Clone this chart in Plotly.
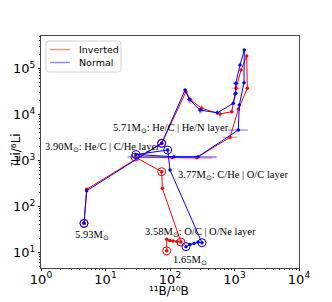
import plotly.graph_objects as go

# ---- data ----
normal_b = [4.64, 5.11, 74.3, 171, 199, 292, 541, 958, 1045, 1045, 1217, 1419, 1404, 1187, 1145,
            272, 115, 29.7, 92, 100, 313, 272, 236, 204, 177]
normal_li = [43, 220, 2366, 34100, 21400, 12500, 10900, 17500, 28900, 47600, 119000, 252000, 49100,
             16100, 4600, 1211, 1211, 1349, 1690, 621, 16.3, 16.9, 15.7, 14.9, 13.4]
inverted_b = [4.64, 5.11, 74.3, 177, 209, 310, 596, 905, 1018, 1055, 1262, 1546, 1579, 1153, 851,
              259, 107, 28.7, 74.3, 76, 148, 128, 111, 99, 88.9, 88.9]
inverted_li = [43, 237, 2366, 31300, 20700, 13600, 10300, 11500, 27900, 37100, 92700, 187000, 37100,
               13200, 3190, 1151, 1161, 1191, 572, 249, 16.9, 17.3, 17.8, 18.2, 19.4, 10.9]

# indices of layer-boundary points (circled)
normal_marks = [0, 2, 17, 18, 20, 24]
inverted_marks = [0, 2, 17, 18, 20, 25]

# error bounds: index -> (low, high)
normal_b_err = {9: (938, 1187), 14: (793, 1620), 16: (22, 535)}
normal_li_err = {4: (17500, 24400), 5: (10300, 14800), 6: (9750, 12500)}
inverted_b_err = {9: (900, 1200), 14: (650, 1100), 15: (159, 448), 16: (24, 520)}
inverted_li_err = {4: (17000, 25000), 5: (10800, 16100), 6: (8500, 12500)}

tick_vals_x = [1, 10, 100, 1000, 10000]
tick_text_x = ["10<sup>0</sup>", "10<sup>1</sup>", "10<sup>2</sup>", "10<sup>3</sup>", "10<sup>4</sup>"]
tick_vals_y = [10, 100, 1000, 10000, 100000]
tick_text_y = ["10<sup>1</sup>", "10<sup>2</sup>", "10<sup>3</sup>", "10<sup>4</sup>", "10<sup>5</sup>"]

series_names = ["Inverted", "Normal"]

# label text and its left/middle position in window pixels
labels = [
    ("5.71M<sub>⊙</sub>: He/C | He/N layer", 111, 128),
    ("3.90M<sub>⊙</sub>: He/C | C/He layer", 43, 147),
    ("3.77M<sub>⊙</sub>: C/He | O/C layer", 176, 175),
    ("3.58M<sub>⊙</sub>: O/C | O/Ne layer", 143, 232),
    ("1.65M<sub>⊙</sub>", 171, 260),
    ("5.93M<sub>⊙</sub>", 73, 235),
]

# the page body has an 8px margin, so the figure is drawn 8px in from the window corner
OFF = 8
WIN_W, WIN_H = 332, 302
W, H = WIN_W - OFF, WIN_H - OFF
L, R, T, B = 41 - OFF, 33, 36 - OFF, 34
PW, PH = W - L - R, H - T - B


def px_to_paper(px, py):
    return (px - OFF - L) / PW, (H - B - (py - OFF)) / PH


def err_arrays(vals, errs):
    plus = [0.0] * len(vals)
    minus = [0.0] * len(vals)
    for i, (lo, hi) in errs.items():
        plus[i] = hi - vals[i]
        minus[i] = vals[i] - lo
    return plus, minus


fig = go.Figure()

series = [
    (inverted_b, inverted_li, inverted_marks, inverted_b_err, inverted_li_err,
     "rgb(255,0,0)", "rgba(255,60,60,0.45)"),
    (normal_b, normal_li, normal_marks, normal_b_err, normal_li_err,
     "rgb(0,0,255)", "rgba(60,60,255,0.45)"),
]

for xs, ys, marks, xe, ye, col, ecol in series:
    xp, xm = err_arrays(xs, xe)
    yp, ym = err_arrays(ys, ye)
    fig.add_trace(go.Scatter(
        x=xs, y=ys, mode="lines+markers", showlegend=False,
        line=dict(color=col, width=1),
        marker=dict(color=col, size=3.5),
        error_x=dict(type="data", symmetric=False, array=xp, arrayminus=xm,
                     color=ecol, thickness=1.6, width=0),
        error_y=dict(type="data", symmetric=False, array=yp, arrayminus=ym,
                     color=ecol, thickness=1.6, width=0),
    ))
    fig.add_trace(go.Scatter(
        x=[xs[i] for i in marks], y=[ys[i] for i in marks], mode="markers",
        showlegend=False,
        marker=dict(symbol="circle-open", size=8, color=col, line=dict(width=1, color=col)),
    ))

for text, px, py in labels:
    ax, ay = px_to_paper(px, py)
    fig.add_annotation(
        text=text, x=ax, y=ay, xref="paper", yref="paper",
        xanchor="left", yanchor="middle", showarrow=False,
        font=dict(family="Liberation Serif", size=10.5, color="black"),
    )

# ---- legend (drawn as a matplotlib-style box) ----
bx0, by0 = px_to_paper(46, 41)
bx1, by1 = px_to_paper(121, 72)
rx, ry = 3 / PW, 3 / PH
path = (f"M {bx0 + rx},{by0} L {bx1 - rx},{by0} Q {bx1},{by0} {bx1},{by0 - ry} "
        f"L {bx1},{by1 + ry} Q {bx1},{by1} {bx1 - rx},{by1} L {bx0 + rx},{by1} "
        f"Q {bx0},{by1} {bx0},{by1 + ry} L {bx0},{by0 - ry} Q {bx0},{by0} {bx0 + rx},{by0} Z")
fig.add_shape(type="path", path=path, xref="paper", yref="paper",
              line=dict(color="rgb(210,210,210)", width=1),
              fillcolor="rgba(255,255,255,0.8)", layer="above")
legend_cols = ["rgba(255,0,0,0.45)", "rgba(0,0,255,0.45)"]
for k, (name, lc) in enumerate(zip(series_names, legend_cols)):
    ly = 49.5 + 13 * k
    lx0, lyp = px_to_paper(50, ly)
    lx1, _ = px_to_paper(70, ly)
    fig.add_shape(type="line", x0=lx0, x1=lx1, y0=lyp, y1=lyp, xref="paper", yref="paper",
                  line=dict(color=lc, width=1.5), layer="above")
    tx, ty = px_to_paper(77, ly)
    fig.add_annotation(text=name, x=tx, y=ty, xref="paper", yref="paper",
                       xanchor="left", yanchor="middle", showarrow=False,
                       font=dict(family="DejaVu Sans", size=9.5, color="black"))

# axis titles
tx, ty = px_to_paper(169, 291)
fig.add_annotation(
    text="¹¹B/¹⁰B", x=tx, y=ty,
    xref="paper", yref="paper", xanchor="center", yanchor="middle", showarrow=False,
    font=dict(family="DejaVu Sans", size=12, color="black"),
)
tx, ty = px_to_paper(16, 150)
fig.add_annotation(
    text="⁷Li/⁶Li", x=tx, y=ty,
    xref="paper", yref="paper", xanchor="center", yanchor="middle", showarrow=False,
    textangle=-90, font=dict(family="DejaVu Sans", size=12, color="black"),
)

minor_x = [k * 10 ** e for e in range(0, 4) for k in range(2, 10)]
minor_y = [k * 10 ** e for e in range(0, 6) for k in range(2, 10)]

axis_common = dict(
    type="log", showgrid=False, zeroline=False, showline=True, mirror=True, automargin=False,
    linecolor="rgb(70,70,70)", linewidth=1, ticks="outside", ticklen=2, tickwidth=1,
    tickcolor="black", tickfont=dict(family="DejaVu Sans", size=13, color="black"),
)

fig.update_xaxes(
    **axis_common, range=[0, 4], tickmode="array", tickvals=tick_vals_x, ticktext=tick_text_x,
    ticklabelstandoff=-3,
    minor=dict(tickmode="array", tickvals=minor_x, ticks="outside", ticklen=1, tickcolor="black"),
)
fig.update_yaxes(
    **axis_common, range=[0.663, 5.707], tickmode="array", tickvals=tick_vals_y, ticktext=tick_text_y,
    minor=dict(tickmode="array", tickvals=minor_y, ticks="outside", ticklen=1, tickcolor="black"),
)

fig.update_layout(
    width=W, height=H, margin=dict(l=L, r=R, t=T, b=B, pad=0, autoexpand=False),
    paper_bgcolor="white", plot_bgcolor="white", showlegend=False,
)

fig.write_html("out.html")
